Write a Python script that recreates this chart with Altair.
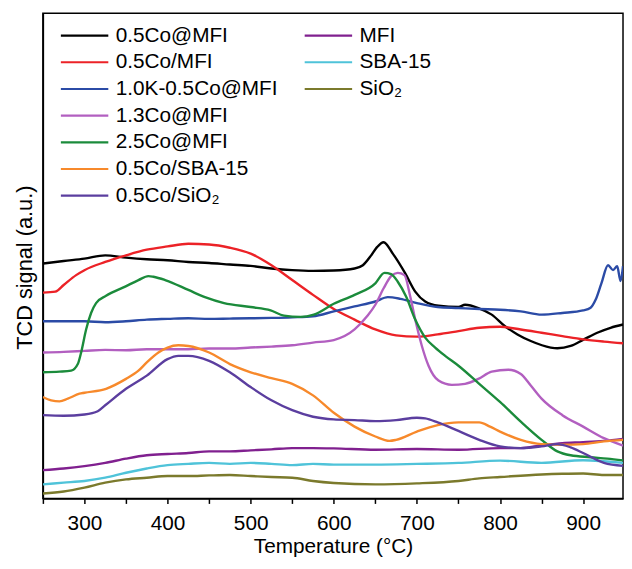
import altair as alt
import pandas as pd

FONT = "Liberation Sans"

# ---- series names and colours ----
SERIES_A = ["0.5Co@MFI", "0.5Co/MFI", "1.0K-0.5Co@MFI", "1.3Co@MFI",
            "2.5Co@MFI", "0.5Co/SBA-15", "0.5Co/SiO₂"]
COLORS_A = ["#000000", "#ec2227", "#2b4ba6", "#b25fc0",
            "#1b8b3b", "#f7892b", "#5b3e9f"]
SERIES_B = ["MFI", "SBA-15", "SiO₂"]
COLORS_B = ["#80208f", "#4fc3d9", "#7b7a2c"]

# ---- data: temperature (°C) and TCD signal (a.u.) ----
T_BLACK = [250, 275, 300, 325, 350, 375, 400, 425, 450, 475, 500, 525, 550, 575, 600,
           625, 635, 645, 652, 660, 671, 686, 698, 710, 726, 750, 758, 774, 790, 806,
           821, 837, 861, 869, 885, 901, 917, 933, 948]
S_BLACK = [237.7, 240.3, 242.7, 246, 243.7, 242, 241, 239.3, 238.3, 236.7, 235.3, 232.7, 231, 230.3, 230.7,
           232.7, 236, 246, 254.3, 259.3, 247.7, 227.7, 209.3, 199.3, 195, 193.7, 196, 192.7, 186, 174.3,
           166, 159.3, 152.7, 152, 154.3, 161, 167.7, 172.7, 176]

T_RED = [250, 265, 275, 290, 300, 325, 350, 375, 400, 425, 450, 475, 500, 525, 550, 575,
         600, 625, 650, 675, 700, 725, 750, 775, 800, 825, 850, 875, 900, 925, 948]
S_RED = [208.3, 209.3, 216, 226, 231, 239.3, 246, 251.7, 255, 257.7, 257, 253.7, 247.7, 236, 221, 206,
         191.7, 181, 171, 165, 163.7, 166, 169.3, 172.7, 173.7, 171, 167.7, 164.3, 161, 158.7, 157]

T_BLUE = [250, 275, 300, 325, 350, 375, 400, 425, 450, 475, 500, 525, 550, 575, 600, 625,
          650, 665, 680, 700, 725, 750, 775, 800, 825, 850, 875, 900, 909, 915, 922, 930,
          936, 941, 945, 948]
S_BLUE = [179.3, 179.3, 179.3, 178.3, 179.3, 181, 181.7, 182.3, 181.7, 182, 182.3, 182.7, 183.3, 184.3, 189.3, 194.3,
          199.3, 203.7, 202, 197.7, 193.7, 192.7, 191.7, 191, 189.3, 186, 187.7, 190.3, 193, 201, 217.7, 236,
          231, 235, 220, 235]

T_PINK = [250, 275, 300, 325, 350, 375, 400, 425, 450, 475, 500, 525, 550, 575, 600, 625,
          640, 650, 660, 669, 677, 685, 692, 698, 706, 714, 726, 742, 758, 774, 790, 810,
          825, 837, 850, 875, 900, 925, 948]
S_PINK = [147.7, 148.3, 149.3, 150.3, 150, 151, 151, 151, 151.7, 151.7, 152.7, 153.7, 155, 157.7, 160.3, 171,
          184.3, 196, 212.7, 225, 228.3, 226, 204.3, 181, 154.3, 134.3, 119.3, 115, 116, 121, 128.3, 130.3,
          126, 114.3, 101, 84.3, 72.7, 61, 53.5]

T_GREEN = [250, 270, 284, 292, 296, 302, 308, 314, 326, 349, 365, 377, 383, 397, 425, 445,
           468, 500, 524, 540, 560, 576, 600, 625, 650, 661, 669, 677, 687, 698, 710, 722,
           734, 750, 775, 800, 825, 850, 869, 885, 909, 929, 948]
S_GREEN = [127.7, 128.3, 129.3, 136, 147.7, 171, 187.7, 197.7, 205, 214.3, 221, 225, 224.3, 221, 211, 203.7,
           197.7, 193.7, 190.3, 185, 183.7, 186, 197, 206, 217.7, 228.3, 227, 219.3, 204.3, 181, 162.7, 152.7,
           144.3, 134.3, 116, 97.7, 77.7, 59.3, 47.7, 43.7, 41.7, 40.3, 38.5]

T_ORANGE = [250, 260, 270, 280, 294, 300, 326, 350, 365, 375, 389, 400, 413, 425, 450, 475,
            500, 525, 550, 575, 600, 625, 650, 667, 675, 700, 725, 750, 775, 788, 800, 825,
            850, 875, 900, 925, 948]
S_ORANGE = [102.7, 99.3, 98.3, 101, 106, 107, 111, 121, 129.3, 137.7, 147.7, 152.7, 155, 154.3, 147.7, 136,
            127.7, 121.7, 116, 104.3, 86.7, 72.7, 62.7, 58.3, 59.3, 67.7, 74.3, 77, 77, 72.7, 67.7, 59.3,
            55, 54.3, 55, 57.7, 59.3]

T_VIOLET = [250, 275, 300, 316, 325, 350, 375, 400, 413, 425, 450, 475, 500, 525, 550, 575,
            600, 625, 650, 675, 700, 710, 725, 750, 775, 800, 825, 850, 869, 885, 900, 925, 948]
S_VIOLET = [84.3, 83.7, 85, 88.3, 94.3, 111, 124.3, 141, 144.3, 144.3, 139.3, 127.7, 112.7, 99.3, 89.3, 82.7,
            80, 79.3, 78.3, 79.3, 81.7, 81, 77, 68.3, 59.3, 52.7, 51, 52.7, 55, 51.7, 46, 36, 33]

T_MFI = [250, 275, 300, 325, 350, 375, 400, 425, 450, 475, 500, 525, 550, 575, 600, 650,
         700, 750, 800, 825, 850, 875, 900, 925, 948]
S_MFI = [28.7, 30.3, 32.7, 36, 40.3, 43.7, 45, 46, 47.7, 47.7, 48.7, 49.7, 51, 51, 50.7, 49.3,
         50, 49.3, 51, 51, 53.7, 56, 57, 58.3, 60.3]

T_SBA = [250, 275, 300, 325, 350, 375, 400, 425, 450, 475, 500, 525, 550, 575, 600, 650,
         700, 750, 800, 850, 900, 948]
S_SBA = [14.3, 16, 17.7, 21, 26, 30.3, 33.7, 35, 36, 35, 36, 35, 33.7, 35, 34.3, 34.3,
         35, 36, 38.3, 36, 38.7, 36]

T_SIO2 = [250, 275, 300, 325, 350, 375, 400, 425, 450, 475, 500, 525, 550, 575, 600, 650,
          700, 750, 775, 800, 850, 875, 900, 925, 948]
S_SIO2 = [5, 7, 11, 16, 19.3, 21, 22.7, 22.7, 23.3, 23.7, 22.7, 21.7, 21, 17.7, 15.7, 14.3,
          15.3, 17.7, 20.3, 21.7, 24.3, 25, 25.3, 23.7, 23.7]

X_TICKS = list(range(250, 949, 50))


def frame(names, ts, ss):
    rows = []
    for n, t, s in zip(names, ts, ss):
        for a, b in zip(t, s):
            rows.append({"series": n, "T": a, "S": b})
    return pd.DataFrame(rows)


df_a = frame(SERIES_A,
             [T_BLACK, T_RED, T_BLUE, T_PINK, T_GREEN, T_ORANGE, T_VIOLET],
             [S_BLACK, S_RED, S_BLUE, S_PINK, S_GREEN, S_ORANGE, S_VIOLET])
df_b = frame(SERIES_B, [T_MFI, T_SBA, T_SIO2], [S_MFI, S_SBA, S_SIO2])

x_enc = alt.X("T:Q",
              scale=alt.Scale(domain=[250, 948], nice=False, zero=False),
              axis=alt.Axis(title="Temperature (°C)", values=X_TICKS,
                            labelExpr="datum.value % 100 == 0 ? datum.label : ''",
                            tickSize=5, tickWidth=1.5, tickColor="black",
                            domainColor="black", domainWidth=1.5, grid=False,
                            labelFont=FONT, labelFontSize=21, labelColor="black",
                            labelPadding=9, labelFlush=False, labelOverlap=False,
                            titleFont=FONT, titleFontSize=21, titleColor="black",
                            titleFontWeight="normal", titlePadding=3))
y_enc = alt.Y("S:Q",
              scale=alt.Scale(domain=[0, 491], nice=False, zero=False),
              axis=alt.Axis(title="TCD signal (a.u.)", labels=False, ticks=False,
                            grid=False, domainColor="black", domainWidth=1.5,
                            titleFont=FONT, titleFontSize=22, titleColor="black",
                            titleFontWeight="normal", titleX=-18.6, titleY=257,
                            titleBaseline="middle", titleAngle=270))


def legend(lx):
    return alt.Legend(title=None, orient="none", legendX=lx, legendY=9.5,
                      direction="vertical", symbolType="stroke", symbolSize=2304,
                      symbolStrokeWidth=2.2, labelFont=FONT, labelFontSize=21,
                      labelColor="black", labelOffset=6, labelLimit=400,
                      clipHeight=26.3, rowPadding=0, padding=0)


layer_b = alt.Chart(df_b).mark_line(strokeWidth=2.4, interpolate="monotone", clip=True).encode(
    x=x_enc, y=y_enc,
    color=alt.Color("series:N", sort=SERIES_B,
                    scale=alt.Scale(domain=SERIES_B, range=COLORS_B),
                    legend=legend(263.4)))

layer_a = alt.Chart(df_a).mark_line(strokeWidth=2.4, interpolate="monotone", clip=True).encode(
    x=x_enc, y=y_enc,
    color=alt.Color("series:N", sort=SERIES_A,
                    scale=alt.Scale(domain=SERIES_A, range=COLORS_A),
                    legend=legend(16.7)))

chart = alt.layer(layer_b, layer_a).resolve_scale(color="independent").resolve_legend(
    color="independent").properties(
    width=587, height=491,
    autosize=alt.AutoSizeParams(type="none"),
    padding={"left": 35.3, "top": 2, "right": 1, "bottom": 60},
    background="white",
).configure_view(stroke="black", strokeWidth=1.5)

chart.save("out.html", embed_options={"renderer": "svg", "actions": False})
